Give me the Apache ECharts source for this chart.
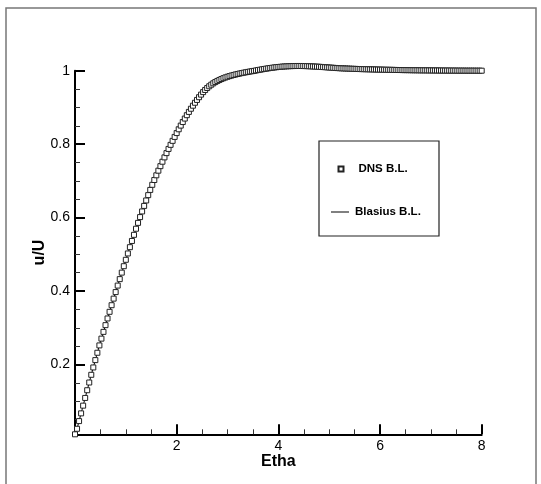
<!DOCTYPE html>
<html><head><meta charset="utf-8">
<script src="https://cdn.jsdelivr.net/npm/echarts@6.0.0/dist/echarts.min.js"></script>
<style>html,body{margin:0;padding:0;background:#fff}#c{width:541px;height:484px}</style>
</head><body><div id="c"></div>
<script>
// Wall-normal coordinate (Etha) of the DNS points
const eta = [
0,0.04,0.08,0.12,0.16,0.2,0.24,0.28,0.32,0.36,0.4,0.44,0.48,0.52,0.56,0.6,0.64,0.68,0.72,0.76,
0.8,0.84,0.88,0.92,0.96,1,1.04,1.08,1.12,1.16,1.2,1.24,1.28,1.32,1.36,1.4,1.44,1.48,1.52,1.56,
1.6,1.64,1.68,1.72,1.76,1.8,1.84,1.88,1.92,1.96,2,2.04,2.08,2.12,2.16,2.2,2.24,2.28,2.32,2.36,
2.4,2.44,2.48,2.52,2.56,2.6,2.64,2.68,2.72,2.76,2.8,2.84,2.88,2.92,2.96,3,3.04,3.08,3.12,3.16,
3.2,3.24,3.28,3.32,3.36,3.4,3.44,3.48,3.52,3.56,3.6,3.64,3.68,3.72,3.76,3.8,3.84,3.88,3.92,3.96,
4,4.04,4.08,4.12,4.16,4.2,4.24,4.28,4.32,4.36,4.4,4.44,4.48,4.52,4.56,4.6,4.64,4.68,4.72,4.76,
4.8,4.84,4.88,4.92,4.96,5,5.04,5.08,5.12,5.16,5.2,5.24,5.28,5.32,5.36,5.4,5.44,5.48,5.52,5.56,
5.6,5.64,5.68,5.72,5.76,5.8,5.84,5.88,5.92,5.96,6,6.04,6.08,6.12,6.16,6.2,6.24,6.28,6.32,6.36,
6.4,6.44,6.48,6.52,6.56,6.6,6.64,6.68,6.72,6.76,6.8,6.84,6.88,6.92,6.96,7,7.04,7.08,7.12,7.16,
7.2,7.24,7.28,7.32,7.36,7.4,7.44,7.48,7.52,7.56,7.6,7.64,7.68,7.72,7.76,7.8,7.84,7.88,7.92,7.96,
8];
// u/U of the DNS boundary layer (the Blasius line lies under the same points)
const uDNS = [
0.010,0.025,0.046,0.067,0.088,0.109,0.130,0.151,0.172,0.192,0.212,0.232,0.252,
0.2705,0.2889,0.3072,0.3254,0.3435,0.3615,0.3794,0.3972,0.4149,0.4325,
0.4502,0.4677,0.4851,0.5024,0.5195,0.5364,0.5531,0.5697,
0.5857,0.6014,0.6168,0.6319,0.6467,0.6612,0.6754,0.6893,
0.7024,0.7152,0.7278,0.7401,0.7522,0.7640,0.7756,0.7870,0.7981,0.8090,0.8197,
0.8302,0.8405,0.8505,0.8602,0.8697,0.8789,
0.8878,0.8964,0.9047,0.9127,0.9204,0.9278,0.9349,0.9417,
0.9475,0.9528,0.9576,0.9619,0.9657,0.9691,0.9721,0.9748,
0.9773,0.9796,0.9817,0.9836,0.9853,0.9869,0.9884,0.9898,0.9911,
0.9923,0.9935,0.9946,0.9957,0.9967,0.9977,0.9986,0.9995,
1.0006,1.0017,1.0027,1.0037,1.0047,1.0056,1.0065,1.0073,1.0081,1.0088,1.0095,1.0101,
1.0106,1.0111,1.0115,1.0119,1.0122,1.0124,1.0126,1.0127,1.0128,1.0128,
1.0128,1.0127,1.0126,1.0124,1.0122,1.0119,1.0116,1.0113,1.0110,1.0107,
1.0103,1.0099,1.0095,1.0091,1.0087,1.0083,1.0079,1.0075,1.0071,1.0068,
1.0065,1.0063,1.0060,1.0058,1.0056,1.0053,1.0051,1.0049,1.0047,1.0045,
1.0043,1.0042,1.0040,1.0039,1.0037,1.0036,1.0034,1.0033,1.0031,1.0030,
1.0029,1.0027,1.0026,1.0025,1.0024,1.0023,1.0021,1.0020,1.0019,1.0018,
1.0017,1.0016,1.0016,1.0015,1.0014,1.0013,1.0012,1.0012,1.0011,1.0010,
1.0010,1.0009,1.0009,1.0008,1.0008,1.0007,1.0007,1.0006,1.0006,1.0005,
1.0005,1.0004,1.0004,1.0004,1.0003,1.0003,1.0003,1.0002,1.0002,1.0002,
1.0002,1.0001,1.0001,1.0001,1.0001,1.0001,1.0000,1.0000,1.0000,1.0000];
const seriesNames = ['DNS B.L.', 'Blasius B.L.'];
const yTickValues = [0.2, 0.4, 0.6, 0.8, 1];
const yMinorTickValues = [0.05,0.1,0.15,0.25,0.3,0.35,0.45,0.5,0.55,0.65,0.7,0.75,0.85,0.9,0.95];
const xMin = 0, xMax = 8, xInterval = 2;
const yMin = 0.01, yMax = 1;

const FONT = '"Liberation Sans", Arial, Helvetica, sans-serif';
const points = eta.map((e, i) => [e, uDNS[i]]);
const chart = echarts.init(document.getElementById('c'), null, {renderer: 'canvas'});
const option = {
  animation: false,
  backgroundColor: '#fff',
  grid: {left: 75, right: 59.3, top: 70.7, bottom: 49.7},
  xAxis: {
    type: 'value', min: xMin, max: xMax, interval: xInterval,
    name: 'Etha', nameLocation: 'middle', nameGap: 19, nameMoveOverlap: false,
    nameTextStyle: {fontFamily: FONT, fontWeight: 'bold', fontSize: 16, color: '#000'},
    axisLine: {lineStyle: {color: '#000', width: 2}},
    axisTick: {inside: true, length: 10, lineStyle: {color: '#000', width: 2}},
    minorTick: {show: true, splitNumber: 4, length: 5, lineStyle: {color: '#333', width: 1}},
    axisLabel: {showMinLabel: false, margin: 5, fontFamily: FONT, fontSize: 14, color: '#000'},
    splitLine: {show: false}
  },
  yAxis: [{
    type: 'value', min: yMin, max: yMax,
    name: 'u/U', nameLocation: 'middle', nameGap: 27, nameRotate: 90, nameMoveOverlap: false,
    nameTextStyle: {fontFamily: FONT, fontWeight: 'bold', fontSize: 16, color: '#000'},
    axisLine: {lineStyle: {color: '#000', width: 2}},
    axisTick: {inside: true, length: 10, customValues: yTickValues, lineStyle: {color: '#000', width: 2}},
    axisLabel: {customValues: yTickValues, margin: 5, fontFamily: FONT, fontSize: 14, color: '#000',
      formatter: v => String(+v.toFixed(2))},
    splitLine: {show: false}
  }, {
    type: 'value', min: yMin, max: yMax, position: 'left',
    axisLine: {show: false},
    axisTick: {inside: true, length: 5, customValues: yMinorTickValues, lineStyle: {color: '#333', width: 1}},
    axisLabel: {show: false},
    splitLine: {show: false}
  }],
  legend: [{
    data: [seriesNames[0]], left: 337.5, top: 163, padding: 0, itemWidth: 5, itemHeight: 5,
    selectedMode: false,
    textStyle: {fontFamily: FONT, fontWeight: 'bold', fontSize: 11.5, color: '#000', padding: [0, 0, 0, 10]}
  }, {
    data: [{name: seriesNames[1], icon: 'rect'}], left: 331, top: 206, padding: 0, itemWidth: 18, itemHeight: 1,
    selectedMode: false,
    itemStyle: {color: '#000', borderWidth: 0},
    textStyle: {fontFamily: FONT, fontWeight: 'bold', fontSize: 11.5, color: '#000', padding: [0, 0, 0, 1]}
  }],
  graphic: [
    {type: 'rect', silent: true, z: -1, shape: {x: 6, y: 8, width: 530, height: 500},
      style: {fill: 'none', stroke: '#777', lineWidth: 1.5}},
    {type: 'rect', silent: true, z: 0, shape: {x: 319, y: 141, width: 120, height: 95},
      style: {fill: '#fff', stroke: '#222', lineWidth: 1.2}}
  ],
  series: [{
    name: seriesNames[1], type: 'line', data: points, yAxisIndex: 0,
    symbol: 'none', clip: false, z: 2,
    lineStyle: {color: '#000', width: 1}, itemStyle: {color: '#000'}
  }, {
    name: seriesNames[0], type: 'scatter', data: points, yAxisIndex: 0,
    symbol: 'rect', symbolSize: 5, clip: false, z: 3,
    itemStyle: {color: '#fff', borderColor: '#222', borderWidth: 1, opacity: 1}
  }]
};
chart.setOption(option);
</script>
</body></html>
